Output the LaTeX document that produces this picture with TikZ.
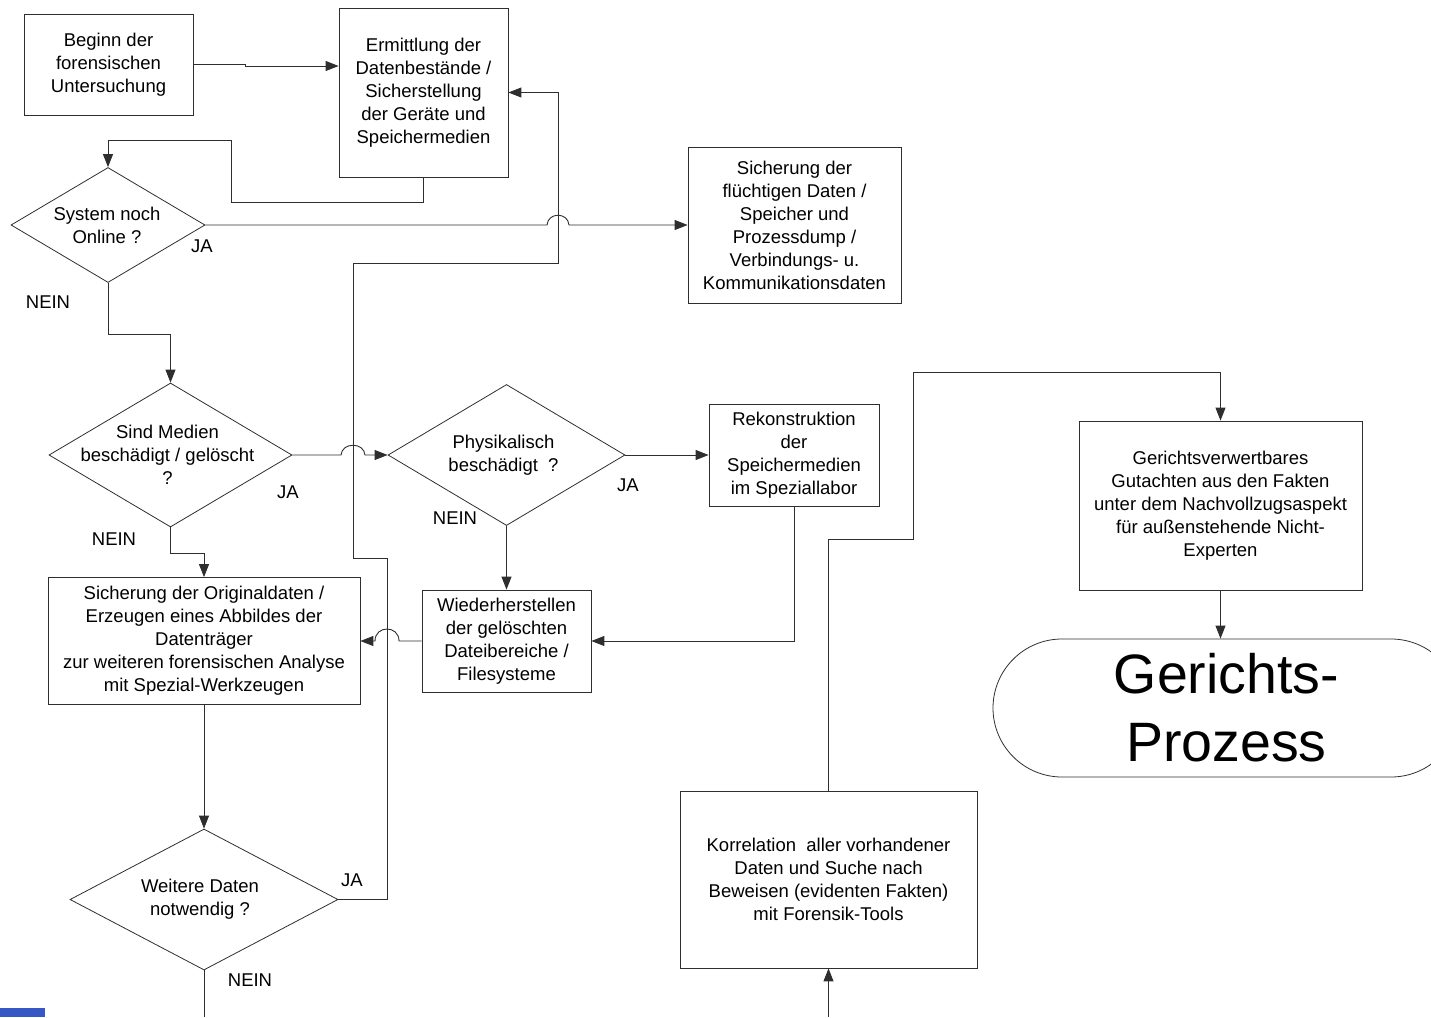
\documentclass[tikz,border=0pt]{standalone}
\usepackage{fontspec}
\setmainfont{Liberation Sans}
\usepackage[dvipsnames]{xcolor}
\definecolor{LINEcolor}{HTML}{2E2E2E}
\definecolor{MARKcolor}{HTML}{3558C4}
\usepackage{tikz}
\usetikzlibrary{shapes.geometric, arrows.meta}

\begin{document}
\begin{tikzpicture}[x=1pt, y=-1pt]
    \tikzset{%
        proc/.style={draw=LINEcolor, line width=0.8pt, align=center, inner sep=0pt,
                font=\fontsize{18.5}{23}\selectfont},
        decision/.style={draw=LINEcolor, line width=0.8pt, diamond, inner sep=0pt},
        qtext/.style={align=center, inner sep=0pt, font=\fontsize{18.5}{23}\selectfont},
        answer/.style={inner sep=0pt, font=\fontsize{18.5}{23}\selectfont},
        flow/.style={draw=LINEcolor, line width=0.9pt, -{Triangle[length=13pt, width=10pt]}},
        wire/.style={draw=LINEcolor, line width=0.9pt},
    }
    \useasboundingbox (0, 0) rectangle (1431, 1017);
    \clip (0, 0) rectangle (1431, 1017);

    % boxes
    \node [proc, minimum width=169, minimum height=101] (start) at (108.5, 64.5)
        {Beginn der\\forensischen\\Untersuchung};
    \node [proc, minimum width=169, minimum height=169] (ermittl) at (423.5, 92.5)
        {Ermittlung der\\Datenbestände /\\Sicherstellung\\der Geräte und\\Speichermedien};
    \node [proc, minimum width=213, minimum height=156] (fluechtig) at (794.5, 225)
        {Sicherung der\\flüchtigen Daten /\\Speicher und\\Prozessdump /\\Verbindungs- u.\\Kommunikationsdaten};
    \node [proc, minimum width=170, minimum height=102] (rekon) at (794, 455)
        {Rekonstruktion\\der\\Speichermedien\\im Speziallabor};
    \node [proc, minimum width=169, minimum height=102] (wieder) at (506.5, 641)
        {Wiederherstellen\\der gelöschten\\Dateibereiche /\\Filesysteme};
    \node [proc, minimum width=312, minimum height=127] (original) at (204, 641)
        {Sicherung der Originaldaten /\\Erzeugen eines Abbildes der\\Datenträger\\zur weiteren forensischen Analyse\\mit Spezial-Werkzeugen};
    \node [proc, minimum width=297, minimum height=177] (korrel) at (828.5, 879.5)
        {Korrelation~ aller vorhandener\\Daten und Suche nach\\Beweisen (evidenten Fakten)\\mit Forensik-Tools};
    \node [proc, minimum width=283, minimum height=169] (gutacht) at (1220.5, 505.5)
        {Gerichtsverwertbares\\Gutachten aus den Fakten\\unter dem Nachvollzugsaspekt\\für außenstehende Nicht-\\Experten};
    \node [proc, rounded corners=69pt, minimum width=467, minimum height=138,
            font=\fontsize{55.5}{68}\selectfont] (prozess) at (1226.5, 708)
        {Gerichts-\\Prozess};

    % decisions
    \node [decision, minimum width=194, minimum height=115] (online) at (108, 225) {};
    \node [qtext] (online-t) at ([xshift=-1]online) {System noch\\Online ?};
    \node [decision, minimum width=243, minimum height=144] (medien) at (170.5, 455) {};
    \node [qtext] (medien-t) at ([xshift=-3]medien) {Sind Medien\\beschädigt / gelöscht\\?};
    \node [decision, minimum width=237, minimum height=141] (physik) at (506.5, 455) {};
    \node [qtext] (physik-t) at ([xshift=-3]physik) {Physikalisch\\beschädigt~ ?};
    \node [decision, minimum width=268, minimum height=141] (weitere) at (204, 899.5) {};
    \node [qtext] (weitere-t) at ([xshift=-4]weitere) {Weitere Daten\\notwendig ?};

    % answers
    \node [answer] (online-ja) at (202, 246) {JA};
    \node [answer] (online-nein) at (48, 302) {NEIN};
    \node [answer] (medien-ja) at (288, 492) {JA};
    \node [answer] (medien-nein) at (114, 539) {NEIN};
    \node [answer] (physik-ja) at (628, 485) {JA};
    \node [answer] (physik-nein) at (455, 518) {NEIN};
    \node [answer] (weitere-ja) at (352, 880) {JA};
    \node [answer] (weitere-nein) at (250, 980) {NEIN};

    % open ends
    \coordinate (exitW) at (204, 1017);
    \coordinate (entryK) at (828.5, 1017);

    % connectors
    \draw [flow] (start.east) -- (245, 64.5) -- (245, 66) -- (ermittl.west |- 0, 66);
    \draw [flow] (ermittl.south) -- ++(0, 25) -| (231, 140) -| (online.north);
    \draw [flow] (online.east) -- (547, 225) .. controls (548, 212) and (568, 212) .. (569, 225)
        -- (fluechtig.west);
    \draw [flow] (online.south) -- ++(0, 52) -| (medien.north);
    \draw [flow] (medien.east) -- (341, 455) .. controls (342, 442) and (364, 442) .. (365, 455)
        -- (physik.west);
    \draw [flow] (physik.east) -- (rekon.west);
    \draw [flow] (physik.south) -- (wieder.north);
    \draw [flow] (rekon.south) |- (wieder.east);
    \draw [flow] (wieder.west) -- (399, 641) .. controls (399, 625) and (375, 625) .. (375, 641)
        -- (original.east);
    \draw [flow] (medien.south) -- ++(0, 26) -| (original.north);
    \draw [flow] (original.south) -- (weitere.north);
    \draw [flow] (weitere.east) -| (387, 558) -| (353, 263) -| (558, 92.5) -- (ermittl.east);
    \draw [wire] (weitere.south) -- (exitW);
    \draw [flow] (entryK) -- (korrel.south);
    \draw [flow] (korrel.north) -- ++(0, -251) -| (913, 372) -| (gutacht.north);
    \draw [flow] (gutacht.south) -- (gutacht.south |- prozess.north);

    \fill [MARKcolor] (0, 1008) rectangle (45, 1017);
\end{tikzpicture}
\end{document}
